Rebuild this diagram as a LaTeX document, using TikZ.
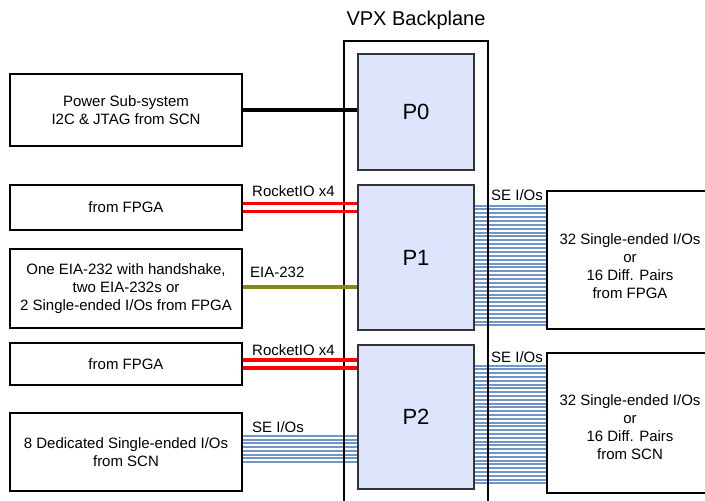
\documentclass[tikz,border=0pt]{standalone}
\usepackage{fontspec}
\setmainfont{Liberation Sans}
\definecolor{pfill}{RGB}{221,228,251}
\definecolor{stripeblue}{RGB}{112,150,200}
\definecolor{rocketred}{RGB}{255,0,0}
\definecolor{eiaolive}{RGB}{135,135,20}
\begin{document}
\begin{tikzpicture}[x=1pt,y=-1pt,
  box/.style={draw=black, line width=1.2pt, align=center, inner sep=0pt, font=\fontsize{15}{18}\selectfont},
  pbox/.style={draw=black!80, fill=pfill, line width=1.2pt, inner sep=0pt, font=\fontsize{22}{22}\selectfont},
  txt/.style={align=center, inner sep=0pt, font=\fontsize{15}{18}\selectfont},
  lbl/.style={anchor=west, inner sep=0pt, font=\fontsize{15}{16}\selectfont},
  stripe/.style={draw=stripeblue, line width=2pt},
  redline/.style={draw=rocketred, line width=3.5pt},
  oliveline/.style={draw=eiaolive, line width=4pt},
  blackline/.style={draw=black, line width=4pt},
  frame/.style={draw=black, line width=1.2pt}]
\useasboundingbox (0,0) rectangle (705,501);

% title and backplane frame
\node[inner sep=0pt, font=\fontsize{20}{20}\selectfont] (title) at (416,20) {VPX Backplane};
\coordinate (fbl) at (344,510);
\coordinate (fbr) at (488,510);
\draw[frame] (fbl) -- (344,41) -- (488,41) -- (fbr);

% P boxes
\node[pbox, minimum width=116, minimum height=116] (P0) at (416,112) {P0};
\node[pbox, minimum width=116, minimum height=145] (P1) at (416,257.5) {P1};
\node[pbox, minimum width=116, minimum height=144] (P2) at (416,417) {P2};

% left boxes
\node[box, minimum width=232, minimum height=72] (pwr) at (126,110) {Power Sub-system\\I2C \& JTAG from SCN};
\node[box, minimum width=232, minimum height=45] (fpga1) at (126,207.5) {from FPGA};
\node[box, minimum width=232, minimum height=79] (eia) at (126,288.5) {One EIA-232 with handshake,\\two EIA-232s or\\2 Single-ended I/Os from FPGA};
\node[box, minimum width=232, minimum height=42] (fpga2) at (126,364) {from FPGA};
\node[box, minimum width=232, minimum height=78] (ded) at (126,452) {8 Dedicated Single-ended I/Os\\from SCN};

% right boxes (extend past the right edge)
\node[box, minimum width=170, minimum height=138] (rb1) at (632,260) {};
\node[box, minimum width=170, minimum height=140] (rb2) at (632,423) {};
\node[txt] (rb1t) at (630,266) {32 Single-ended I/Os\\or\\16 Diff. Pairs\\from FPGA};
\node[txt] (rb2t) at (630,427) {32 Single-ended I/Os\\or\\16 Diff. Pairs\\from SCN};

% stripes
\foreach \i in {0,...,31} {
  \pgfmathsetmacro{\yy}{205.5+\i*3.87}
  \draw[stripe] (P1.east |- 0,\yy) -- (rb1.west |- 0,\yy);
}
\foreach \i in {0,...,31} {
  \pgfmathsetmacro{\yy}{365.5+\i*3.8}
  \draw[stripe] (P2.east |- 0,\yy) -- (rb2.west |- 0,\yy);
}
\foreach \i in {0,...,7} {
  \pgfmathsetmacro{\yy}{436+\i*3.7}
  \draw[stripe] (ded.east |- 0,\yy) -- (P2.west |- 0,\yy);
}

% redraw frame lines over stripes
\draw[frame] (fbr) -- (488,41);
\draw[frame] (fbl) -- (344,41);

% other connectors
\draw[blackline] (pwr.east) -- (pwr.east -| P0.west);
\draw[redline] ([yshift=4pt]fpga1.east) -- ([yshift=4pt]fpga1.east -| P1.west);
\draw[redline] ([yshift=-4pt]fpga1.east) -- ([yshift=-4pt]fpga1.east -| P1.west);
\draw[oliveline] (eia.east |- 0,287) -- (P1.west |- 0,287);
\draw[redline] ([yshift=4pt]fpga2.east) -- ([yshift=4pt]fpga2.east -| P2.west);
\draw[redline] ([yshift=-4pt]fpga2.east) -- ([yshift=-4pt]fpga2.east -| P2.west);

% connector labels
\node[lbl] (l1) at (252,191) {RocketIO x4};
\node[lbl] (l2) at (250,272) {EIA-232};
\node[lbl] (l3) at (252,350) {RocketIO x4};
\node[lbl] (l4) at (252,427) {SE I/Os};
\node[lbl] (l5) at (491,195) {SE I/Os};
\node[lbl] (l6) at (491,357) {SE I/Os};
\end{tikzpicture}
\end{document}
